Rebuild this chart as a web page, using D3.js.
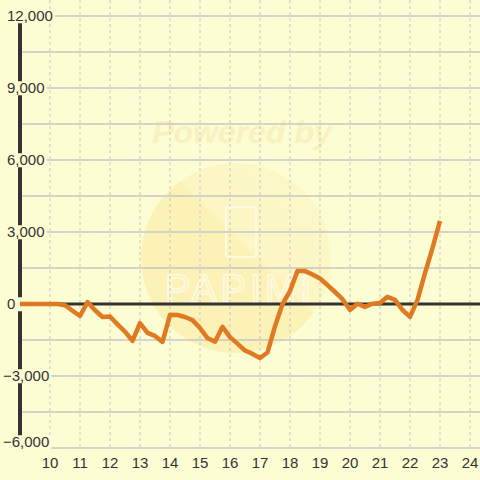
<!DOCTYPE html>
<html>
<head>
<meta charset="utf-8">
<script src="https://cdn.jsdelivr.net/npm/d3@7"></script>
<style>
html,body{margin:0;padding:0;background:#fdfdd3;}
svg{display:block;}
</style>
</head>
<body>
<svg id="chart" width="480" height="480"></svg>
<script>
// ---- data ----
const hours = [9, 10, 10.25, 10.5, 10.75, 11, 11.25, 11.5, 11.75, 12, 12.25, 12.5, 12.75,
  13, 13.25, 13.5, 13.75, 14, 14.25, 14.5, 14.75, 15, 15.25, 15.5, 15.75,
  16, 16.25, 16.5, 16.75, 17, 17.25, 17.5, 17.75, 18, 18.25, 18.5, 18.75,
  19, 19.25, 19.5, 19.75, 20, 20.25, 20.5, 20.75, 21, 21.25, 21.5, 21.75,
  22, 22.25, 22.5, 22.75, 23];
const values = [0, 0, 0, -50, -280, -500, 80, -260, -540, -520, -850, -1150, -1540,
  -800, -1200, -1330, -1580, -450, -460, -540, -670, -1000, -1420, -1570, -950,
  -1380, -1650, -1940, -2080, -2250, -2020, -930, 0, 540, 1380, 1370, 1230,
  1060, 790, 500, 200, -250, 10, -120, 10, 40, 300, 170, -250,
  -540, 170, 1290, 2330, 3460];
const yTickLabels = [12000, 9000, 6000, 3000, 0, -3000, -6000];
const yGridValues = [12000, 10500, 9000, 7500, 6000, 4500, 3000, 1500, 0, -1500, -3000, -4500, -6000];
const xTickLabels = [10, 11, 12, 13, 14, 15, 16, 17, 18, 19, 20, 21, 22, 23, 24];

// ---- scales ----
const W = 480, H = 480;
const x = d3.scaleLinear().domain([9, 24]).range([20, 470]);
const y = d3.scaleLinear().domain([-6000, 12000]).range([448, 16]);
const svg = d3.select("#chart");
const font = "'Liberation Sans', Arial, sans-serif";

svg.append("rect").attr("width", W).attr("height", H).attr("fill", "#fdfdd3");

// ---- watermark ----
const defs = svg.append("defs");
const grad = defs.append("linearGradient").attr("id", "wm")
  .attr("x1", "0%").attr("y1", "100%").attr("x2", "100%").attr("y2", "0%");
grad.append("stop").attr("offset", "0%").attr("stop-color", "#fcf1b6");
grad.append("stop").attr("offset", "55%").attr("stop-color", "#fcf1b6");
grad.append("stop").attr("offset", "56%").attr("stop-color", "#fcf6c4");
grad.append("stop").attr("offset", "100%").attr("stop-color", "#fcf8c8");
const wm = svg.append("g");
wm.append("text").attr("x", 242).attr("y", 143).attr("text-anchor", "middle")
  .attr("font-family", font).attr("font-weight", "bold").attr("font-style", "italic")
  .attr("font-size", 32).attr("fill", "#f9f2be").text("Powered by");
wm.append("circle").attr("cx", 236).attr("cy", 258).attr("r", 95).attr("fill", "url(#wm)");
wm.append("rect").attr("x", 226).attr("y", 207).attr("width", 30).attr("height", 50).attr("rx", 3)
  .attr("fill", "none").attr("stroke", "#fffbe0").attr("stroke-width", 2);
wm.append("text").attr("x", 240).attr("y", 302).attr("text-anchor", "middle")
  .attr("font-family", font).attr("font-size", 38).attr("letter-spacing", 4)
  .attr("fill", "none").attr("stroke", "#fffbe2").attr("stroke-width", 1.5).text("PAPIMI");

// ---- grid ----
svg.append("g").selectAll("line").data(yGridValues).join("line")
  .attr("x1", 20).attr("x2", W).attr("y1", d => y(d)).attr("y2", d => y(d))
  .attr("stroke", "#c6c6c6").attr("stroke-width", 1.5);
svg.append("g").selectAll("line").data(xTickLabels).join("line")
  .attr("x1", d => x(d)).attr("x2", d => x(d)).attr("y1", 0).attr("y2", y(-6000))
  .attr("stroke", "#c6c6c6").attr("stroke-width", 1).attr("stroke-dasharray", "3,3");

// zero line and y axis line
svg.append("line").attr("x1", 20).attr("x2", W).attr("y1", y(0)).attr("y2", y(0))
  .attr("stroke", "#333").attr("stroke-width", 3);
svg.append("line").attr("x1", x(9)).attr("x2", x(9)).attr("y1", y(12000)).attr("y2", y(-6000))
  .attr("stroke", "#333").attr("stroke-width", 4);

// ---- y labels with background ----
const fmt = d3.format(",");
const yl = svg.append("g").selectAll("g").data(yTickLabels).join("g");
yl.append("text")
  .attr("x", d => d < 0 ? 3 : 7).attr("y", d => y(d) - (d === -6000 ? 6 : 0)).attr("dy", "0.35em")
  .attr("font-family", font).attr("font-size", 15).attr("fill", "#333")
  .text(d => fmt(d));
yl.each(function() {
  const g = d3.select(this);
  const bb = g.select("text").node().getBBox();
  g.insert("rect", "text").attr("x", 0).attr("y", bb.y + 2)
    .attr("width", Math.max(bb.x + bb.width + 2, 24)).attr("height", bb.height - 3)
    .attr("fill", "#fdfdd3");
});

// ---- x labels ----
svg.append("g").selectAll("text").data(xTickLabels).join("text")
  .attr("x", d => x(d)).attr("y", 468).attr("text-anchor", "middle")
  .attr("font-family", font).attr("font-size", 15).attr("fill", "#333")
  .text(d => d);

// ---- series line ----
const pts = hours.map((h, i) => [h, values[i]]);
svg.append("path").datum(pts)
  .attr("d", d3.line().x(d => x(d[0])).y(d => y(d[1])))
  .attr("fill", "none").attr("stroke", "#e07a22").attr("stroke-width", 4.5)
  .attr("stroke-linejoin", "round").attr("stroke-linecap", "butt");
</script>
</body>
</html>
